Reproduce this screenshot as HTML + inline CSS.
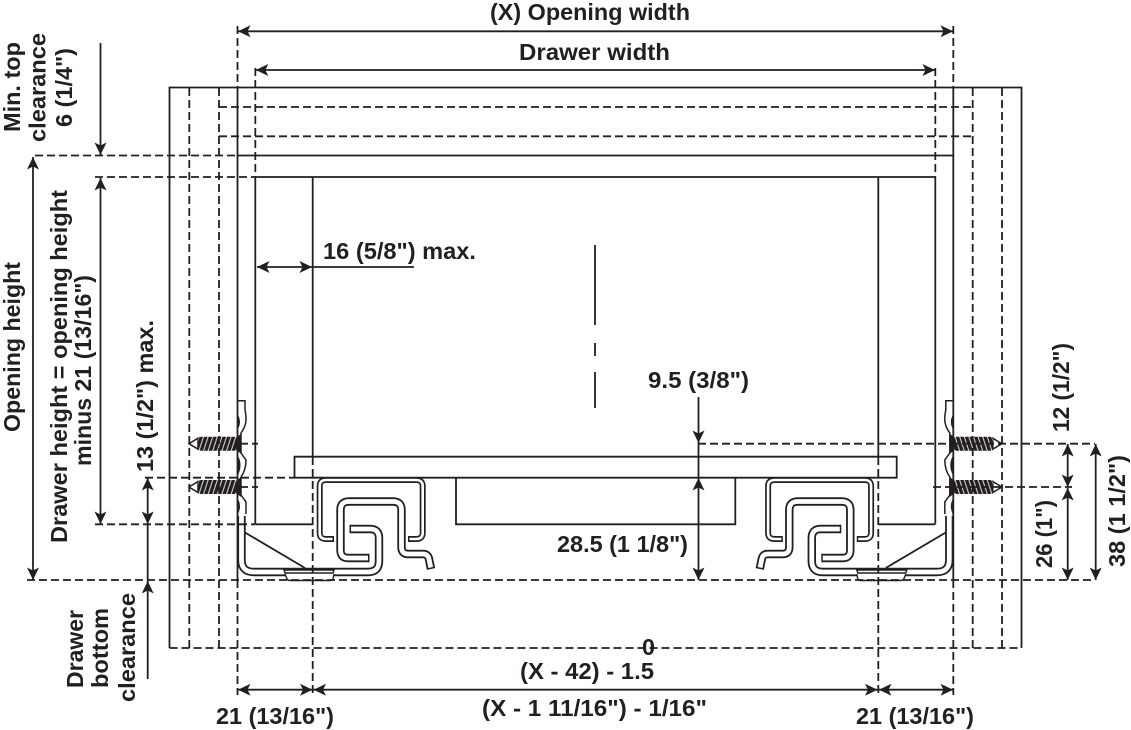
<!DOCTYPE html>
<html>
<head>
<meta charset="utf-8">
<style>
html,body{margin:0;padding:0;background:#fff;width:1131px;height:730px;overflow:hidden}
svg{display:block}
text{font-family:"Liberation Sans",sans-serif;font-weight:bold;font-size:23px;fill:#231f20}
.s{fill:none;stroke:#231f20;stroke-width:1.8}
.d{fill:none;stroke:#231f20;stroke-width:1.8;stroke-dasharray:8 4}
.a{fill:none;stroke:#231f20;stroke-width:1.8;marker-start:url(#h);marker-end:url(#h)}
.e{fill:none;stroke:#231f20;stroke-width:1.8;marker-end:url(#h)}
.o{fill:none;stroke:#231f20;stroke-linejoin:round}
.i{fill:none;stroke:#fff;stroke-linejoin:round}
</style>
</head>
<body>
<svg width="1131" height="730" viewBox="0 0 1131 730" xmlns="http://www.w3.org/2000/svg">
<defs>
<marker id="h" markerUnits="userSpaceOnUse" markerWidth="16" markerHeight="16" refX="14" refY="8" orient="auto-start-reverse">
<path d="M14 8 L1.5 2 L4.5 8 L1.5 14 Z" fill="#231f20"/>
</marker>
<pattern id="th" width="4.6" height="16" patternUnits="userSpaceOnUse" patternTransform="skewX(-18)">
<rect width="4.6" height="16" fill="#231f20"/>
<rect x="3" width="0.9" height="16" fill="#fff"/>
</pattern>
<g id="screw">
<path d="M198 -5.5 L189 0 L198 5.5 Z" fill="#fff" stroke="#231f20" stroke-width="1.5"/>
<rect x="198" y="-7" width="39" height="14" rx="3" fill="url(#th)"/>
<path d="M236 -6 L241 -10 V10 L236 6 Z" fill="#231f20"/>
</g>
<g id="rail">
<rect x="284" y="568" width="50" height="12" fill="#fff"/>
<path class="o" stroke-width="8.4" d="M241.5 516 V560 Q241.5 572 254 572 H368 Q379 572 379 561 V538 Q379 529 370 529 H349.5"/>
<path class="i" stroke-width="4.8" d="M241.5 514 V560 Q241.5 572 254 572 H368 Q379 572 379 561 V538 Q379 529 370 529 H351"/>
<path class="o" stroke-width="8.4" d="M369.5 558 H348 Q340.5 558 340.5 550 V510 Q340.5 501.5 349 501.5 H393 Q401.5 501.5 401.5 510 V547 Q401.5 554 408 554 H423 Q428 554 429 559 L431 569"/>
<path class="i" stroke-width="4.8" d="M368 558 H348 Q340.5 558 340.5 550 V510 Q340.5 501.5 349 501.5 H393 Q401.5 501.5 401.5 510 V547 Q401.5 554 408 554 H423 Q428 554 429 559 L430.7 567.5"/>
<path class="o" stroke-width="6" d="M334 539 H326 Q319.7 539 319.7 533 V486 Q319.7 480 326 480 H416 Q422.7 480 422.7 486 V533 Q422.7 539 416 539 H408"/>
<path class="i" stroke-width="2.6" d="M332.5 539 H326 Q319.7 539 319.7 533 V486 Q319.7 480 326 480 H416 Q422.7 480 422.7 486 V533 Q422.7 539 416 539 H409.5"/>
<path class="s" d="M245 532.5 L305 568"/>
<path d="M284 570 H334 L333 573 H285 Z" fill="#fff" stroke="#231f20" stroke-width="1.4"/>
<path d="M285 574 L287 579 Q288 580.5 290 580.5 H330 Q332 580.5 333 579 L334 574" fill="#fff" stroke="#231f20" stroke-width="1.4"/>
<path d="M238 400.7 H245 V410 Q246 414 246 420 Q246 426 241 433 V453 L246 460 Q246 470 241 477 V495 L246 502 V514" fill="none" stroke="#231f20" stroke-width="1.5"/>
<path d="M238 416 Q241 422 238 428 Z M238 457 Q242 465 238 474 Z M238 500 Q241 506 238 513 Z" fill="#231f20" stroke="#231f20"/>
<use href="#screw" x="0" y="443.7"/>
<use href="#screw" x="0" y="487"/>
</g>
</defs>
<rect width="1131" height="730" fill="#fff"/>

<use href="#rail"/>
<use href="#rail" transform="translate(1190.8 0) scale(-1 1)"/>

<!-- cabinet -->
<path class="s" d="M169.5 648 V87.5 H1021.5 V648"/>
<path class="d" d="M169.5 648 H1021.5"/>
<path class="d" d="M189.3 88 V648 M219 88 V648 M972.7 88 V648 M1002 88 V648"/>
<path class="d" d="M219 107 H972.7 M219 136.3 H972.7"/>
<path class="s" d="M237.5 87.5 V580 M953.3 87.5 V580"/>
<path class="d" d="M237.5 26 V87 M953.3 26 V87 M237.5 580 V695 M953.3 580 V695"/>
<path class="d" d="M255.3 68 V177 M935.3 68 V177"/>
<path class="s" d="M237.5 155.5 H953.3"/>
<path class="d" d="M35 155.5 H237"/>
<path class="s" d="M255.3 177 H935.3 M255.3 177 V524.3 M935.3 177 V524.3 M312.7 177 V457 M878.3 177 V457"/>
<path class="d" d="M95 177 H255"/>
<path class="d" d="M312.7 457 V695 M878.3 457 V695"/>

<!-- shelf -->
<path class="s" d="M294.5 477.7 V456.7 H896.7 V477.7 H294.5"/>
<path class="s" d="M456 478 V524.3 H735.3 V478 M255.3 524.3 H312.7 M878.3 524.3 H935.3"/>
<path class="d" d="M145 477.7 H295"/>
<path class="d" d="M95 524.3 H255"/>
<path class="d" d="M27 580 H1095"/>
<path class="d" d="M698 443.7 H1095 M933 487 H1072"/>
<path class="d" d="M240 443.7 H258 M240 487 H258"/>

<!-- centre line -->
<path class="s" d="M595 245 V325 M595 343 V356 M595 372 V408"/>

<!-- dimension arrows -->
<path class="a" d="M238 31.3 H953"/>
<path class="a" d="M255.8 70 H935"/>
<path class="a" d="M257 267 H312"/>
<path class="s" d="M312 267 H414"/>
<path class="e" d="M698.5 397 V443"/>
<path class="s" d="M698.5 443 V478"/>
<path class="a" d="M698.5 478 V580"/>
<path class="e" d="M100.5 43 V155"/>
<path class="a" d="M100.5 178 V524"/>
<path class="a" d="M33 157 V580"/>
<path class="a" d="M147.7 478 V524"/>
<path class="s" d="M147.7 524 V581"/>
<path class="e" d="M147.7 679 V581"/>
<path class="a" d="M1067.7 444 V487"/>
<path class="a" d="M1067.7 488 V580"/>
<path class="a" d="M1095.7 444 V580"/>
<path class="a" d="M238 689.7 H312.5"/>
<path class="a" d="M313.5 689.7 H877.5"/>
<path class="a" d="M879 689.7 H953"/>

<!-- labels -->
<text x="490" y="20" textLength="200" lengthAdjust="spacingAndGlyphs">(X) Opening width</text>
<text x="519" y="60" textLength="151" lengthAdjust="spacingAndGlyphs">Drawer width</text>
<text x="323" y="259" textLength="153" lengthAdjust="spacingAndGlyphs">16 (5/8") max.</text>
<text x="648" y="388" textLength="101" lengthAdjust="spacingAndGlyphs">9.5 (3/8")</text>
<text x="557" y="552" textLength="131" lengthAdjust="spacingAndGlyphs">28.5 (1 1/8")</text>
<text x="642" y="655" textLength="13" lengthAdjust="spacingAndGlyphs">0</text>
<text x="520" y="679" textLength="134" lengthAdjust="spacingAndGlyphs">(X - 42) - 1.5</text>
<text x="482" y="716" textLength="225" lengthAdjust="spacingAndGlyphs">(X - 1 11/16") - 1/16"</text>
<text x="216" y="724" textLength="118" lengthAdjust="spacingAndGlyphs">21 (13/16")</text>
<text x="856" y="724" textLength="118" lengthAdjust="spacingAndGlyphs">21 (13/16")</text>

<text transform="translate(20 132) rotate(-90)" textLength="90" lengthAdjust="spacingAndGlyphs">Min. top</text>
<text transform="translate(45.7 142) rotate(-90)" textLength="109" lengthAdjust="spacingAndGlyphs">clearance</text>
<text transform="translate(72 127) rotate(-90)" textLength="79" lengthAdjust="spacingAndGlyphs">6 (1/4")</text>
<text transform="translate(20 432) rotate(-90)" textLength="170" lengthAdjust="spacingAndGlyphs">Opening height</text>
<text transform="translate(67 543) rotate(-90)" textLength="353" lengthAdjust="spacingAndGlyphs">Drawer height = opening height</text>
<text transform="translate(91 466) rotate(-90)" textLength="191" lengthAdjust="spacingAndGlyphs">minus 21 (13/16")</text>
<text transform="translate(153 472) rotate(-90)" textLength="152" lengthAdjust="spacingAndGlyphs">13 (1/2") max.</text>
<text transform="translate(83 688) rotate(-90)" textLength="78" lengthAdjust="spacingAndGlyphs">Drawer</text>
<text transform="translate(108 688) rotate(-90)" textLength="80" lengthAdjust="spacingAndGlyphs">bottom</text>
<text transform="translate(135 702) rotate(-90)" textLength="109" lengthAdjust="spacingAndGlyphs">clearance</text>
<text transform="translate(1069 432) rotate(-90)" textLength="89" lengthAdjust="spacingAndGlyphs">12 (1/2")</text>
<text transform="translate(1052 568) rotate(-90)" textLength="68" lengthAdjust="spacingAndGlyphs">26 (1")</text>
<text transform="translate(1125 567) rotate(-90)" textLength="112" lengthAdjust="spacingAndGlyphs">38 (1 1/2")</text>
</svg>
</body>
</html>
